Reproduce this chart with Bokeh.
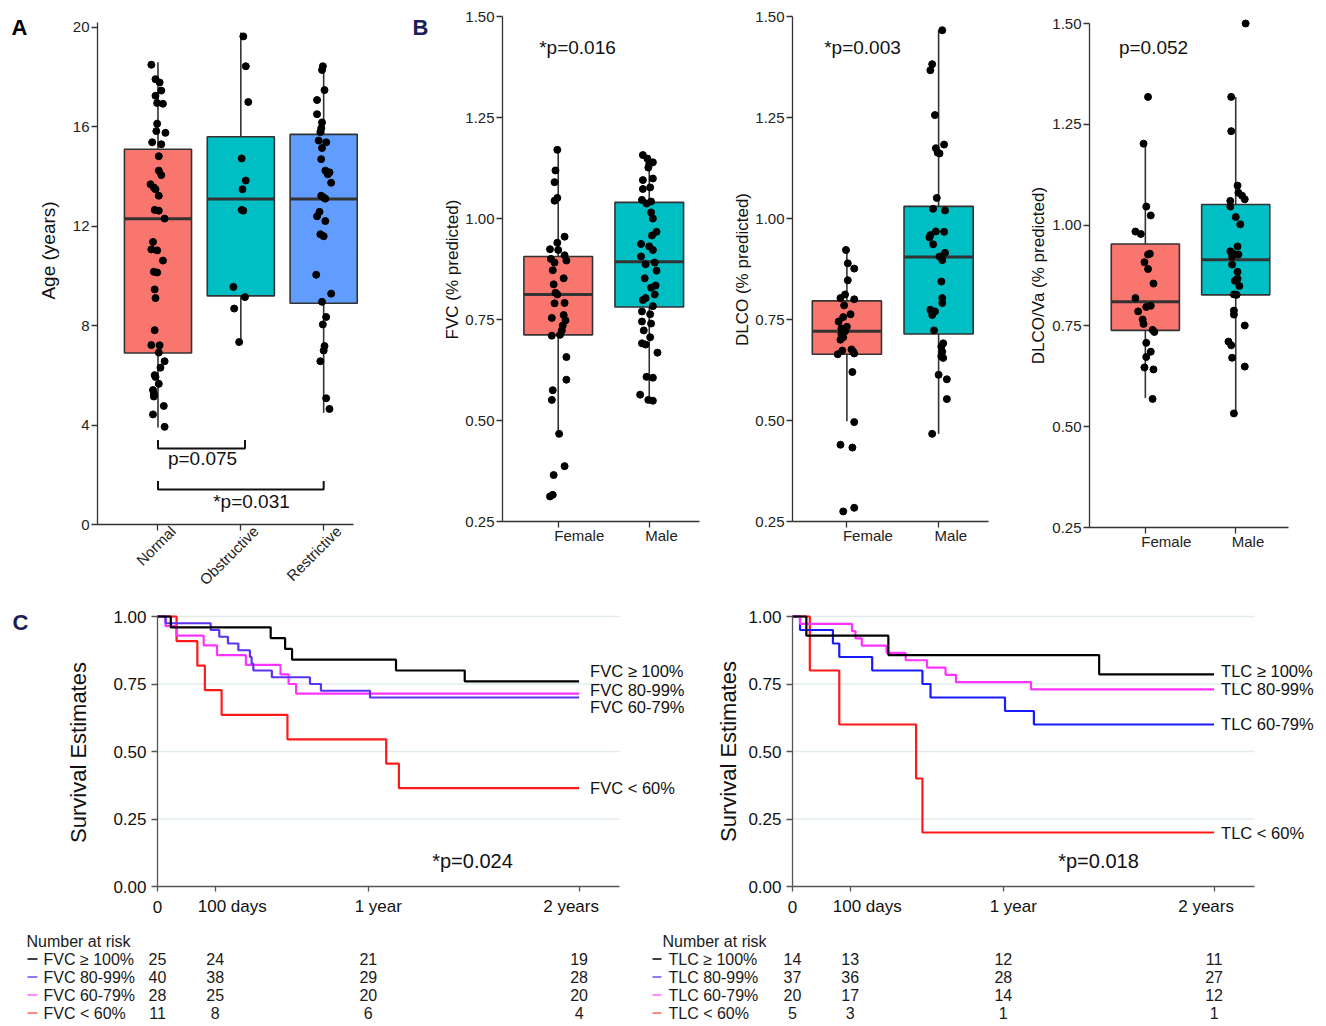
import math
from bokeh.plotting import figure
from bokeh.models import Range1d, FixedTicker, Label, NumeralTickFormatter, LinearAxis
from bokeh.layouts import row, column
from bokeh.embed import file_html
from bokeh.resources import INLINE
from bokeh.core.properties import value

# ======================= DATA =======================
# ---- Panel A: age by spirometry pattern ----
age_groups = ["Normal", "Obstructive", "Restrictive"]
age_q1 = [6.9, 9.2, 8.9]
age_median = [12.3, 13.1, 13.1]
age_q3 = [15.1, 15.6, 15.7]
age_whisker_low = [3.9, 7.4, 4.5]
age_whisker_high = [18.6, 19.8, 18.5]
age_normal = [18.50, 17.92, 17.79, 17.46, 17.25, 16.96, 16.93, 16.13, 15.83, 15.76,
              15.38, 15.30, 14.82, 14.24, 14.06, 13.69, 13.56, 13.49, 13.23, 12.66,
              12.63, 12.31, 11.37, 11.07, 11.03, 10.62, 10.17, 10.14, 9.46, 9.11,
              7.82, 7.22, 7.21, 6.92, 6.57, 6.31, 6.01, 5.94, 5.66, 5.41,
              5.26, 5.15, 4.77, 4.43, 3.93]
age_normal_jitter = [-0.08, -0.03, 0.02, 0.04, -0.03, -0.01, 0.06, -0.01, -0.02, 0.09,
                     -0.07, 0.04, 0.01, 0.01, 0.04, -0.09, -0.05, -0.03, 0.01, -0.04,
                     0.01, 0.08, -0.06, -0.08, -0.01, 0.06, -0.05, -0.01, -0.04, -0.03,
                     -0.04, -0.08, 0.02, 0.01, 0.08, 0.03, -0.04, -0.03, 0.01, -0.06,
                     -0.05, -0.05, 0.07, -0.06, 0.08]
age_obstructive = [19.64, 18.44, 17.00, 14.73, 13.84, 13.49, 12.66, 12.63, 9.56, 9.15, 8.69, 7.34]
age_obstructive_jitter = [0.03, 0.06, 0.09, 0.01, 0.06, 0.02, 0.01, 0.03, -0.09, 0.05, -0.08, -0.02]
age_restrictive = [18.44, 18.29, 17.48, 17.08, 16.51, 16.18, 15.94, 15.79, 15.45, 15.38,
                   15.15, 14.70, 14.24, 14.17, 14.09, 13.75, 13.23, 13.16, 13.11, 12.58,
                   12.40, 12.21, 11.68, 11.60, 10.05, 9.29, 8.96, 8.35, 8.05, 7.18,
                   7.00, 6.57, 5.08, 4.65]
age_restrictive_jitter = [-0.01, -0.02, 0.01, -0.08, -0.08, -0.02, -0.03, -0.04, -0.06, 0.03,
                          -0.02, -0.03, 0.02, 0.07, 0.05, 0.09, -0.03, 0.0, 0.02, -0.05,
                          -0.08, 0.02, -0.04, 0.0, -0.09, 0.09, -0.02, 0.03, -0.01, 0.01,
                          0.0, -0.04, 0.03, 0.07]
age_comparisons = [(0, 1), (0, 2)]
age_pvalues = ["p=0.075", "*p=0.031"]

# ---- Panel B: lung function by sex ----
sex_groups = ["Female", "Male"]

fvc_q1 = [0.712, 0.781]
fvc_median = [0.812, 0.893]
fvc_q3 = [0.906, 1.040]
fvc_whisker_low = [0.467, 0.551]
fvc_whisker_high = [1.170, 1.157]
fvc_female = [1.170, 1.119, 1.090, 1.051, 1.044, 0.955, 0.940, 0.924, 0.922, 0.909,
              0.900, 0.896, 0.891, 0.872, 0.852, 0.837, 0.816, 0.812, 0.791, 0.790,
              0.761, 0.754, 0.748, 0.735, 0.723, 0.712, 0.710, 0.657, 0.601, 0.575,
              0.551, 0.467, 0.387, 0.365, 0.316, 0.312]
fvc_female_jitter = [-0.01, -0.03, -0.04, -0.01, -0.04, 0.07, -0.01, -0.09, 0.0, 0.07,
                     -0.08, 0.09, -0.04, -0.06, 0.06, -0.05, -0.03, -0.01, 0.07, -0.04,
                     0.06, -0.07, 0.08, 0.05, 0.04, 0.02, -0.07, 0.09, 0.09, -0.06,
                     -0.07, 0.01, 0.07, -0.05, -0.06, -0.09]
fvc_male = [1.157, 1.148, 1.139, 1.135, 1.126, 1.099, 1.095, 1.077, 1.073, 1.046,
            1.042, 1.037, 1.015, 1.000, 0.967, 0.958, 0.937, 0.931, 0.922, 0.906,
            0.891, 0.887, 0.871, 0.852, 0.834, 0.829, 0.812, 0.803, 0.798, 0.783,
            0.770, 0.763, 0.745, 0.740, 0.723, 0.706, 0.691, 0.688, 0.668, 0.608,
            0.606, 0.564, 0.551, 0.549]
fvc_male_jitter = [-0.07, -0.02, 0.04, 0.0, -0.01, 0.04, -0.07, 0.01, -0.07, -0.08,
                   0.02, -0.03, 0.02, 0.04, 0.08, 0.03, -0.09, 0.0, 0.04, -0.09,
                   0.06, -0.04, 0.08, -0.05, 0.07, 0.02, 0.06, -0.04, -0.07, 0.04,
                   -0.08, 0.01, -0.08, 0.02, -0.06, 0.01, -0.08, -0.04, 0.09, -0.03,
                   0.04, -0.10, -0.01, 0.04]
fvc_pvalue = "*p=0.016"

dlco_q1 = [0.664, 0.714]
dlco_median = [0.721, 0.905]
dlco_q3 = [0.796, 1.030]
dlco_whisker_low = [0.498, 0.467]
dlco_whisker_high = [0.918, 1.466]
dlco_female = [0.922, 0.889, 0.876, 0.847, 0.812, 0.803, 0.800, 0.785, 0.763, 0.756,
               0.745, 0.732, 0.728, 0.721, 0.714, 0.706, 0.700, 0.676, 0.673, 0.670,
               0.666, 0.664, 0.620, 0.496, 0.440, 0.433, 0.284, 0.275]
dlco_female_jitter = [-0.01, 0.01, 0.08, 0.01, -0.02, -0.07, 0.08, -0.03, 0.04, -0.04,
                      -0.09, 0.0, -0.06, -0.02, -0.06, -0.04, -0.07, 0.05, -0.05, 0.07,
                      0.08, -0.10, 0.06, 0.08, -0.07, 0.06, 0.08, -0.04]
dlco_male = [1.466, 1.382, 1.367, 1.256, 1.183, 1.174, 1.163, 1.161, 1.051, 1.024,
             1.020, 0.968, 0.967, 0.959, 0.953, 0.936, 0.915, 0.906, 0.897, 0.844,
             0.803, 0.791, 0.774, 0.770, 0.761, 0.723, 0.691, 0.683, 0.670, 0.659,
             0.655, 0.613, 0.602, 0.553, 0.467]
dlco_male_jitter = [0.04, -0.07, -0.09, -0.04, 0.06, -0.03, -0.01, 0.01, -0.02, -0.06,
                    0.07, -0.03, 0.06, -0.09, -0.10, -0.06, 0.07, 0.01, 0.04, 0.03,
                    0.04, 0.04, -0.09, -0.04, -0.07, -0.05, 0.05, 0.03, 0.04, 0.03,
                    0.05, 0.0, 0.09, 0.09, -0.07]
dlco_pvalue = "*p=0.003"

dlcova_q1 = [0.739, 0.827]
dlcova_median = [0.810, 0.914]
dlcova_q3 = [0.953, 1.051]
dlcova_whisker_low = [0.571, 0.533]
dlcova_whisker_high = [1.202, 1.318]
dlcova_female = [1.318, 1.202, 1.046, 1.024, 0.984, 0.978, 0.929, 0.927, 0.908, 0.891,
                 0.855, 0.819, 0.800, 0.797, 0.786, 0.766, 0.755, 0.740, 0.735, 0.708,
                 0.686, 0.673, 0.647, 0.642, 0.569]
dlcova_female_jitter = [0.03, -0.02, 0.01, 0.06, -0.11, -0.05, 0.05, 0.03, -0.01, 0.03,
                        0.09, -0.11, 0.06, 0.01, -0.08, -0.03, -0.02, 0.08, 0.10, 0.01,
                        0.06, 0.01, -0.01, 0.09, 0.08]
dlcova_male = [1.500, 1.318, 1.233, 1.098, 1.080, 1.073, 1.064, 1.060, 1.046, 1.020,
               1.002, 0.947, 0.935, 0.929, 0.927, 0.922, 0.902, 0.884, 0.867, 0.862,
               0.849, 0.828, 0.827, 0.788, 0.778, 0.751, 0.711, 0.702, 0.671, 0.649,
               0.533]
dlcova_male_jitter = [0.11, -0.05, -0.05, 0.02, 0.03, 0.07, 0.10, -0.06, -0.06, 0.0,
                      0.05, 0.02, -0.06, -0.03, 0.03, -0.04, -0.04, 0.02, 0.02, -0.01,
                      0.04, -0.02, 0.01, -0.02, -0.02, 0.10, -0.08, -0.05, -0.04, 0.10,
                      -0.02]
dlcova_pvalue = "p=0.052"

# ---- Panel C: Kaplan-Meier survival ----
km_end_day = 730
km_time_ticks = [0, 100, 365, 730]
km_time_labels = ["0", "100 days", "1 year", "2 years"]
km_grid_levels = [0.25, 0.5, 0.75, 1.0]

fvc_groups = ["FVC \u2265 100%", "FVC 80-99%", "FVC 60-79%", "FVC < 60%"]
fvc_event_days = [
    [23, 196, 221, 233, 413, 532],
    [14, 92, 107, 122, 140, 160, 163, 166, 198, 264, 283, 368],
    [14, 33, 80, 103, 153, 213, 227, 240],
    [33, 69, 82, 111, 225, 396, 418],
]
fvc_survival = [
    [0.96, 0.92, 0.88, 0.84, 0.80, 0.76],
    [0.975, 0.95, 0.925, 0.90, 0.875, 0.85, 0.825, 0.80, 0.775, 0.75, 0.725, 0.70],
    [0.964, 0.929, 0.893, 0.857, 0.821, 0.786, 0.75, 0.714],
    [0.909, 0.818, 0.727, 0.636, 0.545, 0.455, 0.364],
]
fvc_at_risk = [[25, 24, 21, 19], [40, 38, 29, 28], [28, 25, 20, 20], [11, 8, 6, 4]]
fvc_km_pvalue = "*p=0.024"

tlc_groups = ["TLC \u2265 100%", "TLC 80-99%", "TLC 60-79%", "TLC < 60%"]
tlc_event_days = [
    [24, 166, 531],
    [13, 103, 109, 120, 163, 196, 233, 265, 283, 413],
    [13, 70, 81, 138, 225, 239, 368, 418],
    [30, 81, 214, 225],
]
tlc_survival = [
    [0.929, 0.857, 0.786],
    [0.973, 0.946, 0.919, 0.892, 0.865, 0.838, 0.811, 0.784, 0.757, 0.730],
    [0.95, 0.90, 0.85, 0.80, 0.75, 0.70, 0.65, 0.60],
    [0.8, 0.6, 0.4, 0.2],
]
tlc_at_risk = [[14, 13, 12, 11], [37, 36, 28, 27], [20, 17, 14, 12], [5, 3, 1, 1]]
tlc_km_pvalue = "*p=0.018"

# ======================= STYLE =======================
FONT = "Liberation Sans"
INK = "#333333"
NAVY = "#1b1d5a"
BOX_FILLS = ["#F8766D", "#00BFC4", "#619CFF"]
FVC_COLORS = ["#000000", "#5b33f0", "#ff33ff", "#ff1a1a"]
TLC_COLORS = ["#000000", "#ff33ff", "#1a1aff", "#ff1a1a"]
RISK_DASH = ["#000000", "#6a4cf5", "#ff66ff", "#ff6655"]
KM_TICK_LABEL_SHIFT = [0, 17, 10, -8]   # px, as the tick labels sit in the original


def canvas_fig(ox, oy, w, h, frame, data):
    """Figure whose drawing area is the whole canvas; `frame` is the pixel box
    (left, top, right, bottom, page coordinates) that `data` (x0, x1, y0, y1) spans."""
    l, t, r, b = frame
    x0, x1, y0, y1 = data
    kx = (r - l) / (x1 - x0)
    ky = (b - t) / (y1 - y0)
    xr = (x0 - (l - ox) / kx, x1 + (ox + w - r) / kx)
    yr = (y0 - (oy + h - b) / ky, y1 + (t - oy) / ky)
    p = figure(width=w, height=h, x_range=Range1d(*xr), y_range=Range1d(*yr),
               toolbar_location=None, output_backend="svg", min_border=0,
               x_axis_location=None, y_axis_location=None)
    p.outline_line_color = None
    p.background_fill_color = "white"
    p.border_fill_color = "white"
    p.grid.visible = False

    def at(rx, ry):
        return (x0 + (rx - l) / kx, y1 - (ry - t) / ky)
    return p, at


def add_axis(p, side, loc, bounds, ticks, size="15px", color="#222222", line_color=INK,
             tick_out=6, standoff=2, formatter=None, overrides=None, labels=True):
    ax = LinearAxis(fixed_location=loc, bounds=bounds, ticker=FixedTicker(ticks=ticks))
    ax.axis_line_color = line_color
    ax.axis_line_width = 1.3
    ax.major_tick_line_color = line_color
    ax.major_tick_line_width = 1.3
    ax.major_tick_in = 0
    ax.major_tick_out = tick_out
    ax.minor_tick_line_color = None
    ax.major_label_text_font = FONT
    ax.major_label_text_font_size = size
    ax.major_label_text_color = color if labels else None
    ax.major_label_standoff = standoff
    if formatter is not None:
        ax.formatter = formatter
    if overrides is not None:
        ax.major_label_overrides = overrides
    p.add_layout(ax, side)
    return ax


def add_label(p, x, y, text, size, color="#111111", align="center", baseline="middle",
              bold=False, angle=0.0, x_offset=0, y_offset=0):
    p.add_layout(Label(x=x, y=y, text=text, text_font=FONT, text_font_size=f"{size}px",
                       text_color=color, text_align=align, text_baseline=baseline,
                       text_font_style="bold" if bold else "normal", angle=angle,
                       x_offset=x_offset, y_offset=y_offset))


def draw_boxes(p, xs, q1, med, q3, lo, hi, fills, width):
    lefts = [x - width / 2 for x in xs]
    rights = [x + width / 2 for x in xs]
    p.segment(x0=xs, y0=lo, x1=xs, y1=hi, line_color=INK, line_width=1.6)
    p.quad(left=lefts, right=rights, bottom=q1, top=q3, fill_color=fills,
           line_color=INK, line_width=1.6)
    p.segment(x0=lefts, y0=med, x1=rights, y1=med, line_color=INK, line_width=3)


# ======================= PANEL A =======================
A_X, A_Y = (0.27, 3.36), (0, 20.2)
pA, A_at = canvas_fig(0, 0, 410, 598, (97, 22, 353, 524), A_X + A_Y)
ax_pos = [i + 1 for i in range(len(age_groups))]
draw_boxes(pA, ax_pos, age_q1, age_median, age_q3, age_whisker_low, age_whisker_high,
           BOX_FILLS, 0.81)
for xc, vals, jit in zip(ax_pos, [age_normal, age_obstructive, age_restrictive],
                         [age_normal_jitter, age_obstructive_jitter, age_restrictive_jitter]):
    pA.scatter([xc + j for j in jit], vals, size=7, color="black")

bracket_levels = [(3.06, 3.40), (1.41, 1.75)]
bracket_right_pad = [0.05, 0.0]
for (a, b), (yb, yt), pad in zip(age_comparisons, bracket_levels, bracket_right_pad):
    xa, xb = ax_pos[a], ax_pos[b] + pad
    pA.line([xa, xa, xb, xb], [yt, yb, yb, yt], line_color="#111111", line_width=2)
add_label(pA, *A_at(202, 458), age_pvalues[0], 19)
add_label(pA, *A_at(251, 501), age_pvalues[1], 19)

add_axis(pA, "left", A_X[0], A_Y, [0, 4, 8, 12, 16, 20])
add_axis(pA, "below", A_Y[0], A_X, ax_pos, labels=False)
for xc, name in zip(ax_pos, age_groups):
    add_label(pA, xc, 0, name, 15, color="#222222", align="right", baseline="middle",
              angle=math.pi / 4, x_offset=15, y_offset=-4)
add_label(pA, *A_at(48, 250), "Age (years)", 19, angle=math.pi / 2)
add_label(pA, *A_at(19, 27), "A", 22, color="#000000", bold=True)

# ======================= PANEL B =======================
b_specs = [
    dict(ox=410, w=310, frame=(502, 16, 699, 521), xr=(0.388, 2.552),
         label="FVC (% predicted)", lab_ref=(452, 269),
         q=(fvc_q1, fvc_median, fvc_q3, fvc_whisker_low, fvc_whisker_high),
         pts=[(fvc_female, fvc_female_jitter), (fvc_male, fvc_male_jitter)],
         pval=fvc_pvalue, pref=(577, 47), tag="B"),
    dict(ox=720, w=290, frame=(792, 16, 988, 521), xr=(0.407, 2.544),
         label="DLCO (% predicted)", lab_ref=(742, 269),
         q=(dlco_q1, dlco_median, dlco_q3, dlco_whisker_low, dlco_whisker_high),
         pts=[(dlco_female, dlco_female_jitter), (dlco_male, dlco_male_jitter)],
         pval=dlco_pvalue, pref=(862, 47), tag=None),
    dict(ox=1010, w=308, frame=(1089, 23, 1288, 527), xr=(0.382, 2.584),
         label="DLCO/Va (% predicted)", lab_ref=(1038, 275),
         q=(dlcova_q1, dlcova_median, dlcova_q3, dlcova_whisker_low, dlcova_whisker_high),
         pts=[(dlcova_female, dlcova_female_jitter), (dlcova_male, dlcova_male_jitter)],
         pval=dlcova_pvalue, pref=(1153, 47), tag=None),
]
B_Y = (0.25, 1.5)
b_figs = []
bx = [i + 1 for i in range(len(sex_groups))]
for s in b_specs:
    p, at = canvas_fig(s["ox"], 0, s["w"], 598, s["frame"], s["xr"] + B_Y)
    q1, md, q3, lo, hi = s["q"]
    draw_boxes(p, bx, q1, md, q3, lo, hi, BOX_FILLS[:2], 0.754)
    for xc, (vals, jit) in zip(bx, s["pts"]):
        p.scatter([xc + j for j in jit], vals, size=7, color="black")
    add_axis(p, "left", s["xr"][0], B_Y, [0.25, 0.5, 0.75, 1.0, 1.25, 1.5],
             formatter=NumeralTickFormatter(format="0.00"))
    add_axis(p, "below", B_Y[0], s["xr"], bx, labels=False)
    for xc, name in zip(bx, sex_groups):
        add_label(p, xc, B_Y[0], name, 15, color="#222222", align="left",
                  x_offset=-4, y_offset=-14)
    add_label(p, *at(*s["lab_ref"]), s["label"], 17, angle=math.pi / 2)
    add_label(p, *at(*s["pref"]), s["pval"], 19)
    if s["tag"]:
        add_label(p, *at(420, 27), s["tag"], 22, color=NAVY, bold=True)
    b_figs.append(p)

# ======================= PANEL C =======================
KM_X, KM_Y = (0, 800), (0, 1.0)


def step_xy(days, surv, end):
    xs, ys, cur = [0], [1.0], 1.0
    for d, s in zip(days, surv):
        xs += [d, d]
        ys += [cur, s]
        cur = s
    xs.append(end)
    ys.append(cur)
    return xs, ys


def km_panel(ox, w, axis_x, names, days, surv, colors, label_dx, label_dy, pval, pref,
             ylab_ref, tag=None):
    p, at = canvas_fig(ox, 598, w, 327, (axis_x, 616, axis_x + 462, 886), KM_X + KM_Y)
    n = len(km_grid_levels)
    p.segment(x0=[KM_X[0]] * n, y0=km_grid_levels, x1=[KM_X[1]] * n, y1=km_grid_levels,
              line_color="#e1ebf0", line_width=1.5)
    for i in reversed(range(len(names))):
        xs, ys = step_xy(days[i], surv[i], km_end_day)
        p.line(xs, ys, line_color=colors[i], line_width=2.2)
        add_label(p, km_end_day, surv[i][-1], names[i], 16.5, color="#111111",
                  align="left", x_offset=label_dx, y_offset=label_dy[i])
    add_axis(p, "left", KM_X[0], KM_Y, [0, 0.25, 0.5, 0.75, 1.0], size="17px",
             color="#111111", line_color="#555555", tick_out=6, standoff=5,
             formatter=NumeralTickFormatter(format="0.00"))
    add_axis(p, "below", KM_Y[0], KM_X, km_time_ticks, line_color="#555555",
             tick_out=5, labels=False)
    for t, lab, dx in zip(km_time_ticks, km_time_labels, KM_TICK_LABEL_SHIFT):
        add_label(p, t, KM_Y[0], lab, 17, color="#111111", x_offset=dx, y_offset=-20)
    add_label(p, *at(*ylab_ref), "Survival Estimates", 22, angle=math.pi / 2)
    add_label(p, *at(*pref), pval, 20)
    if tag:
        add_label(p, *at(20, 622), tag, 22, color=NAVY, bold=True)
    return p


kmL = km_panel(0, 700, 157, fvc_groups, fvc_event_days, fvc_survival, FVC_COLORS,
               11, [10, 8, -13, 0], fvc_km_pvalue, (472, 860), (78, 752), tag="C")
kmR = km_panel(700, 618, 792, tlc_groups, tlc_event_days, tlc_survival, TLC_COLORS,
               7, [3, 0, 1, 0], tlc_km_pvalue, (1098, 860), (728, 751))


def risk_table(ox, w, zero_ref, names, counts, title_ref, dash_ref, name_ref):
    p, at = canvas_fig(ox, 925, w, 97, (zero_ref, 925, zero_ref + 462, 1022), KM_X + (0, 97))
    fnt = dict(text_font=value(FONT), text_font_size=value("16px"), text_color="#1a1a1a",
               text_baseline="middle")
    tx, ty = at(title_ref, 940.5)
    p.text(x=[tx], y=[ty], text=["Number at risk"], text_align="left", **fnt)
    for i, name in enumerate(names):
        ry = 958.5 + i * 18
        x0, yy = at(dash_ref[0], ry)
        x1, _ = at(dash_ref[1], ry)
        p.segment(x0=[x0], y0=[yy], x1=[x1], y1=[yy], line_color=RISK_DASH[i], line_width=1.6)
        nx, _ = at(name_ref, ry)
        p.text(x=[nx], y=[yy], text=[name], text_align="left", **fnt)
        p.text(x=km_time_ticks, y=[yy] * len(km_time_ticks),
               text=[str(c) for c in counts[i]], text_align="center", **fnt)
    return p


rkL = risk_table(0, 645, 157, fvc_groups, fvc_at_risk, 26, (27, 37), 43)
rkR = risk_table(645, 673, 792, tlc_groups, tlc_at_risk, 662, (652, 661), 668)

layout = column(row(pA, *b_figs), row(kmL, kmR), row(rkL, rkR))
open("out.html", "w").write(file_html(layout, INLINE, title="Lung function figure"))
